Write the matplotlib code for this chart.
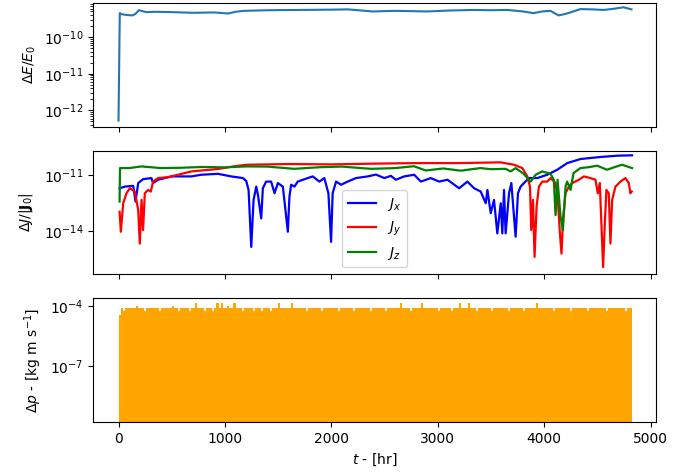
import numpy as np
import matplotlib
matplotlib.use('Agg')
import matplotlib.pyplot as plt
from matplotlib.ticker import NullLocator

# Energy error (top panel)
t_e = [0, 12, 30, 80, 130, 160, 190, 215, 260, 350, 500, 700, 900, 1030, 1100, 1180,
       1400, 1700, 2000, 2155, 2387, 2600, 2902, 3100, 3337, 3500, 3652, 3800, 3900,
       3980, 4058, 4135, 4200, 4245, 4340, 4450, 4557, 4650, 4745, 4790, 4820]
dE = [5.3e-13, 4.5e-10, 4.2e-10, 4.0e-10, 3.9e-10, 4.3e-10, 5.4e-10, 5.2e-10, 4.8e-10,
      4.9e-10, 4.8e-10, 4.6e-10, 4.7e-10, 4.4e-10, 4.9e-10, 5.2e-10, 5.4e-10, 5.5e-10,
      5.6e-10, 5.7e-10, 5.0e-10, 5.2e-10, 5.0e-10, 5.3e-10, 5.5e-10, 5.4e-10, 5.5e-10,
      5.0e-10, 4.5e-10, 5.0e-10, 5.2e-10, 3.9e-10, 4.3e-10, 4.7e-10, 5.8e-10, 5.7e-10,
      5.5e-10, 5.9e-10, 6.5e-10, 6.0e-10, 5.7e-10]

# Angular momentum errors (middle panel), stored as log10 exponents
t_jx = [10, 60, 138, 160, 185, 231, 309, 325, 372, 497, 684, 778, 934, 1059, 1169, 1200,
        1222, 1247, 1269, 1294, 1310, 1341, 1356, 1387, 1434, 1466, 1497, 1544, 1591,
        1606, 1622, 1653, 1684, 1778, 1825, 1887, 1934, 1972, 1997, 2012, 2044, 2091,
        2153, 2231, 2341, 2419, 2497, 2559, 2606, 2684, 2778, 2841, 2934, 3012, 3091,
        3200, 3278, 3341, 3403, 3450, 3466, 3497, 3528, 3559, 3591, 3606, 3622, 3637,
        3669, 3691, 3716, 3731, 3753, 3778, 3809, 3856, 3934, 4028, 4122, 4216, 4341,
        4528, 4684, 4825]
jx_exp = [-11.69, -11.6, -11.56, -12.41, -11.41, -11.2, -11.14, -11.41, -11.23, -11.05,
          -11.05, -10.96, -10.91, -11.05, -11.14, -11.3, -11.78, -14.86, -12.32, -11.6,
          -12.05, -13.32, -11.69, -11.33, -11.33, -11.96, -11.41, -11.6, -14.04, -12.14,
          -11.5, -11.6, -11.33, -11.14, -11.05, -11.33, -11.14, -11.96, -14.59, -11.96,
          -11.33, -11.5, -11.33, -11.14, -11.05, -10.95, -11.14, -11.02, -11.23, -11.05,
          -10.96, -11.33, -11.14, -11.33, -11.23, -11.69, -11.33, -11.69, -11.87, -12.5,
          -11.78, -13.04, -12.32, -14.13, -12.5, -14.13, -11.78, -14.13, -11.96, -11.41,
          -13.23, -14.31, -11.96, -11.6, -11.41, -11.14, -11.14, -10.96, -10.69, -10.33,
          -10.11, -10.0, -9.93, -9.91]

t_jy = [10, 22, 44, 75, 106, 153, 185, 200, 216, 231, 247, 278, 303, 325, 372, 466, 559,
        622, 684, 778, 934, 1091, 1200, 1600, 2000, 2400, 2800, 3200, 3590, 3716, 3794,
        3841, 3866, 3878, 3894, 3909, 3928, 3950, 3981, 4028, 4059, 4106, 4128, 4147,
        4162, 4178, 4200, 4231, 4263, 4325, 4372, 4434, 4481, 4503, 4522, 4538, 4553,
        4569, 4584, 4606, 4622, 4638, 4669, 4716, 4763, 4794, 4809, 4822]
jy_exp = [-12.96, -14.04, -12.5, -11.96, -11.69, -11.87, -12.86, -14.68, -12.32, -13.95,
          -11.96, -11.78, -11.87, -11.33, -11.14, -11.09, -10.96, -10.87, -10.78, -10.73,
          -10.65, -10.5, -10.42, -10.38, -10.4, -10.36, -10.33, -10.33, -10.29, -10.42,
          -10.6, -11.05, -11.6, -13.95, -12.32, -15.4, -12.68, -11.6, -11.33, -11.33,
          -11.14, -11.41, -12.32, -14.13, -15.22, -13.23, -11.96, -11.6, -11.41, -11.23,
          -11.05, -11.14, -11.23, -11.96, -11.41, -13.77, -15.95, -13.59, -11.78, -11.96,
          -14.68, -12.32, -11.6, -11.33, -11.14, -11.41, -11.96, -11.87]

t_jz = [10, 14, 100, 215, 400, 600, 780, 1000, 1200, 1400, 1650, 1900, 2100, 2372, 2600,
        2775, 2887, 3050, 3215, 3400, 3500, 3637, 3684, 3731, 3806, 3872, 3919, 3981,
        4059, 4090, 4106, 4125, 4153, 4175, 4200, 4215, 4247, 4275, 4340, 4420, 4497,
        4590, 4660, 4731, 4825]
jz_exp = [-12.41, -10.6, -10.6, -10.51, -10.6, -10.58, -10.54, -10.56, -10.51, -10.52,
          -10.64, -10.55, -10.52, -10.64, -10.6, -10.5, -10.73, -10.62, -10.74, -10.6,
          -10.66, -10.64, -10.78, -10.6, -10.91, -11.33, -10.96, -10.78, -10.91, -11.23,
          -13.14, -11.23, -13.23, -13.95, -11.6, -11.33, -11.78, -10.87, -10.6, -10.55,
          -10.47, -10.69, -10.55, -10.42, -10.6]

# Momentum change per 20 hr bin (bottom panel), in units of 1e-5 kg m/s
bin_width = 20
dp_e5 = [3.5, 8.0, 5.8, 8.1, 7.9, 8.2, 7.8, 8.0, 10.5, 8.1, 7.9, 8.0, 5.8, 8.2, 7.9, 8.0, 8.1, 7.8, 8.0, 5.8,
         8.1, 7.9, 8.2, 8.0, 7.8, 10.0, 8.1, 7.9, 5.8, 8.0, 8.2, 7.9, 8.0, 5.8, 8.1, 7.8, 14.5, 8.0, 7.9, 8.1,
         5.8, 8.0, 8.2, 7.9, 5.8, 8.1, 14.5, 8.0, 14.5, 7.9, 8.1, 10.5, 8.0, 7.8, 14.5, 8.1, 7.9, 8.0, 5.8, 8.2,
         7.9, 8.0, 8.1, 5.8, 7.9, 8.2, 8.0, 5.8, 7.8, 8.1, 8.0, 5.8, 7.9, 8.2, 8.0, 14.5, 7.9, 8.1, 8.0, 7.8,
         8.1, 14.5, 7.9, 8.0, 8.2, 7.8, 8.0, 8.1, 5.8, 7.9, 8.0, 8.2, 7.9, 8.1, 8.0, 5.8, 7.8, 8.1, 8.0, 7.9,
         8.2, 8.0, 7.9, 5.8, 8.1, 8.0, 7.8, 8.2, 8.0, 7.9, 5.8, 8.1, 8.0, 7.9, 8.2, 8.0, 7.8, 8.1, 5.8, 8.0,
         7.9, 8.2, 8.0, 8.1, 7.8, 5.8, 8.0, 8.1, 7.9, 8.2, 8.0, 7.9, 14.5, 8.1, 8.0, 7.8, 8.2, 5.8, 8.0, 7.9,
         8.1, 8.0, 14.5, 7.9, 8.2, 8.0, 7.8, 8.1, 8.0, 7.9, 5.8, 8.2, 8.0, 8.1, 7.9, 8.0, 5.8, 8.1, 7.8, 8.0,
         14.5, 8.0, 7.9, 8.1, 14.5, 8.0, 8.2, 7.9, 5.8, 8.0, 8.1, 7.8, 8.0, 8.2, 7.9, 5.8, 8.1, 8.0, 7.9, 8.2,
         8.0, 7.8, 8.1, 5.8, 8.0, 7.9, 8.2, 8.0, 8.1, 7.9, 5.8, 8.0, 8.2, 7.8, 8.0, 8.1, 14.5, 7.9, 8.0, 8.2,
         7.9, 8.1, 8.0, 7.8, 5.8, 8.2, 8.0, 7.9, 8.1, 8.0, 7.8, 8.2, 5.8, 8.0, 7.9, 8.1, 8.0, 8.2, 7.9, 8.0,
         5.8, 8.1, 8.0, 7.9, 8.2, 7.8, 8.0, 8.1, 7.9, 5.8, 8.0, 8.2, 7.9, 8.1, 8.0, 7.8, 8.2, 8.0, 5.8, 8.1,
         8.0]
t_bins = np.arange(len(dp_e5)) * bin_width

fig, (ax1, ax2, ax3) = plt.subplots(3, 1, figsize=(6.99, 4.75), dpi=100, sharex=True)
fig.subplots_adjust(left=0.133, right=0.9385, top=0.9937, bottom=0.1116, hspace=0.195)

# Top: relative energy error
ax1.plot(t_e, dE, color='C0', lw=1.5)
ax1.set_yscale('log')
ax1.set_ylim(10**-12.44, 10**-9.07)
ax1.set_ylabel(r'$\Delta E/E_0$')

# Middle: angular momentum components
ax2.plot(t_jx, 10.0 ** np.array(jx_exp), color='b', lw=1.6, label=r'$J_x$')
ax2.plot(t_jy, 10.0 ** np.array(jy_exp), color='r', lw=1.6, label=r'$J_y$')
ax2.plot(t_jz, 10.0 ** np.array(jz_exp), color='g', lw=1.6, label=r'$J_z$')
ax2.set_yscale('log')
ax2.set_ylim(10**-16.34, 10**-9.66)
ax2.set_yticks([1e-11, 1e-14])
ax2.yaxis.set_minor_locator(NullLocator())
ax2.set_ylabel(r'$\Delta J/|\mathbf{J}_0|$', labelpad=6)
ax2.legend(loc='lower center')

# Bottom: momentum change
ax3.bar(t_bins, np.array(dp_e5) * 1e-5, width=bin_width, align='edge',
        color='orange', linewidth=0)
ax3.set_yscale('log')
ax3.set_ylim(10**-9.82, 10**-3.61)
ax3.set_yticks([1e-4, 1e-7])
ax3.yaxis.set_minor_locator(NullLocator())
ax3.set_ylabel(r'$\Delta p$ - [kg m s$^{-1}$]')
ax3.set_xlabel(r'$t$ - [hr]')
ax3.set_xlim(-240, 5050)

fig.savefig('out.png', dpi=100)
